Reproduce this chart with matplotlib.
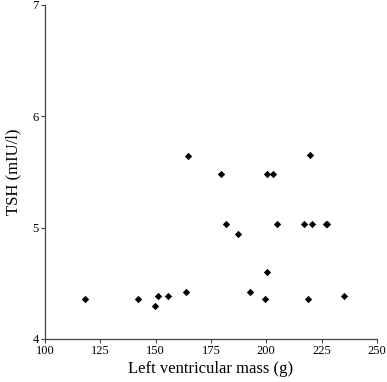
import matplotlib
matplotlib.use("Agg")
import matplotlib.pyplot as plt

# left ventricular mass (g) and TSH (mIU/l)
lv_mass = [118.1, 141.9, 149.6, 151.1, 155.4, 163.7, 164.5, 179.7, 181.9, 187.3,
           192.8, 199.6, 200.3, 200.3, 202.9, 205.0, 217.0, 220.5, 219.7, 219.0,
           226.9, 227.6, 235.3]
tsh = [4.36, 4.36, 4.30, 4.39, 4.39, 4.42, 5.64, 5.48, 5.03, 4.94,
       4.42, 4.36, 4.60, 5.48, 5.48, 5.03, 5.03, 5.03, 5.65, 4.36,
       5.03, 5.03, 4.39]

x_ticks = [100, 125, 150, 175, 200, 225, 250]
y_ticks = [4, 5, 6, 7]

plt.rcParams['font.family'] = ['Liberation Serif', 'DejaVu Serif']

fig = plt.figure(figsize=(3.87, 3.82), dpi=100)
ax = fig.add_axes([0.1163, 0.1126, 0.8577, 0.8744])
ax.scatter(lv_mass, tsh, marker='D', s=14, color='black', linewidths=0)

ax.set_xlim(100, 250)
ax.set_ylim(4, 7)
ax.set_xticks(x_ticks)
ax.set_yticks(y_ticks)
ax.tick_params(direction='out', length=3, width=0.8, pad=1.5, labelsize=9, color='#444444')
for s in ['top', 'right']:
    ax.spines[s].set_visible(False)
for s in ['left', 'bottom']:
    ax.spines[s].set_color('#444444')
    ax.spines[s].set_linewidth(0.9)

ax.set_xlabel('Left ventricular mass (g)', fontsize=12, labelpad=3)
ax.set_ylabel('TSH (mIU/l)', fontsize=12, labelpad=8)

fig.savefig('out.png', dpi=100)
